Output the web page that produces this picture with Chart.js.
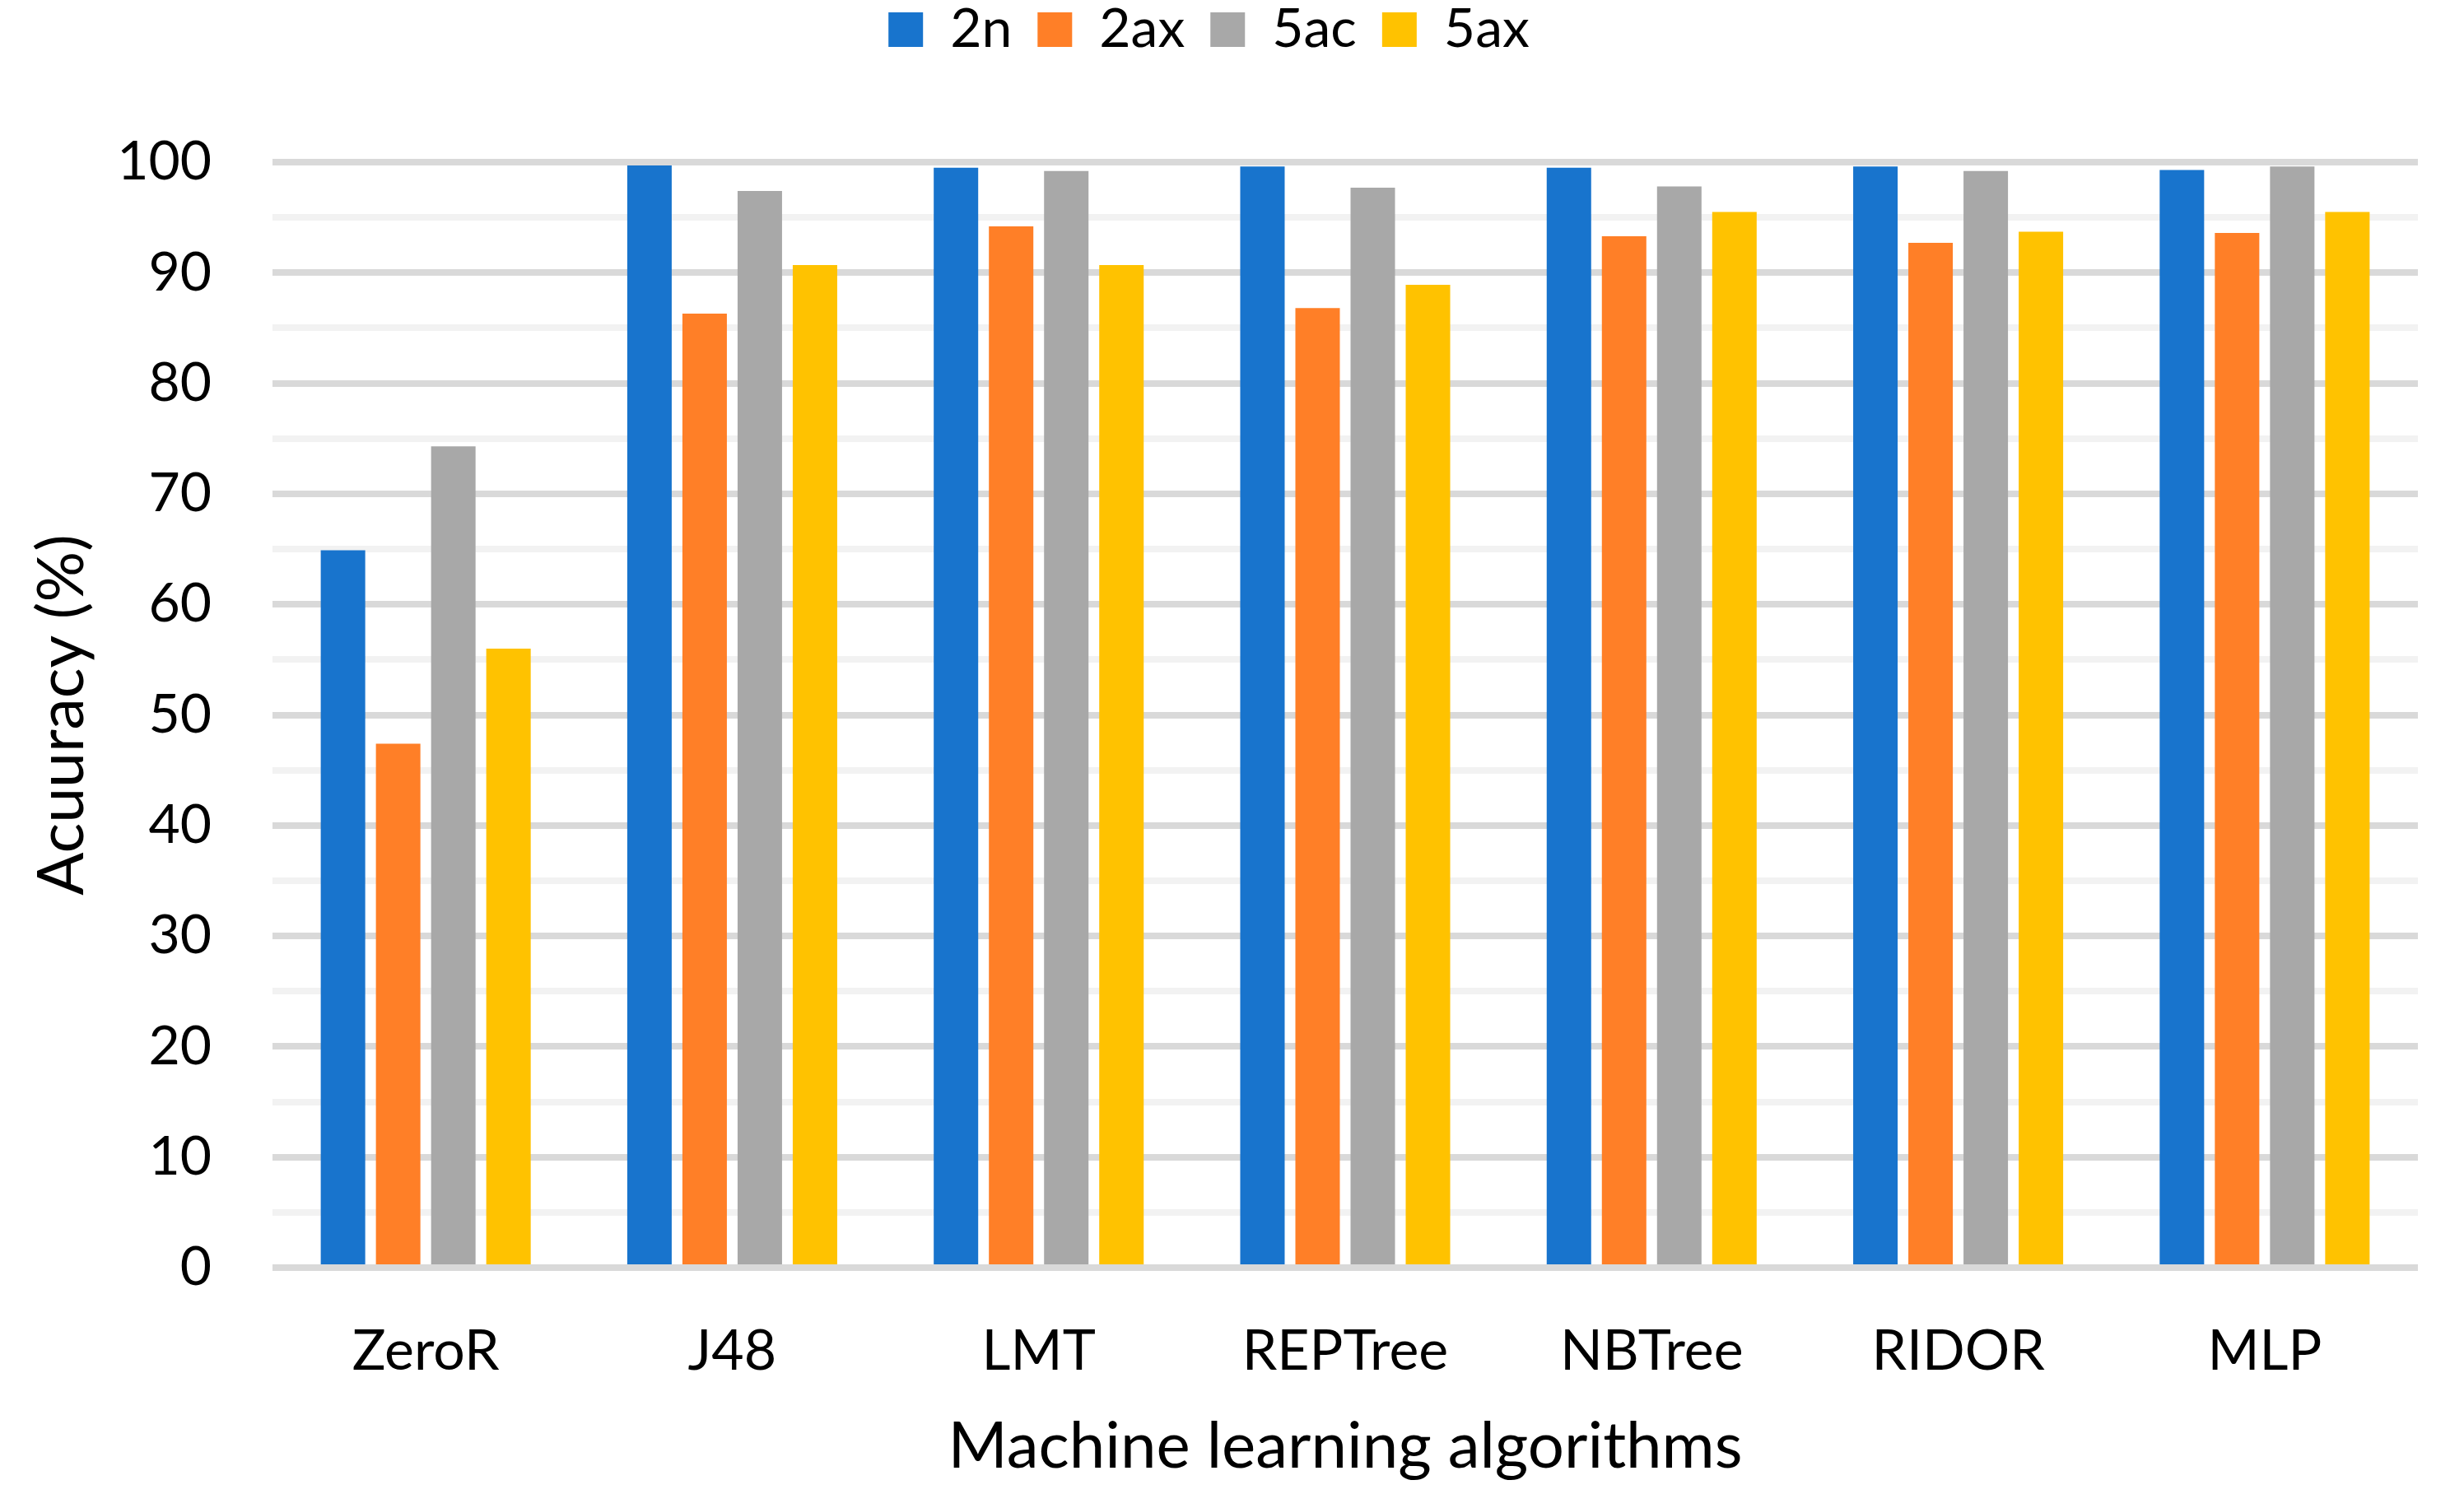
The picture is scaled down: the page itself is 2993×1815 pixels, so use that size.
<!DOCTYPE html>
<html>
<head>
<meta charset="utf-8">
<script src="https://cdn.jsdelivr.net/npm/chart.js@4/dist/chart.umd.min.js"></script>
<style>
  html, body { margin: 0; padding: 0; background: #ffffff; }
  #wrap { width: 2993px; height: 1815px; }
</style>
</head>
<body>
<div id="wrap"><canvas id="c" width="2993" height="1815"></canvas></div>
<script>
const categories = ["ZeroR", "J48", "LMT", "REPTree", "NBTree", "RIDOR", "MLP"];
const series2n  = [64.9, 99.7, 99.5, 99.6, 99.5, 99.6, 99.3];
const series2ax = [47.4, 86.3, 94.2, 86.8, 93.3, 92.7, 93.6];
const series5ac = [74.3, 97.4, 99.2, 97.7, 97.8, 99.2, 99.6];
const series5ax = [56.0, 90.7, 90.7, 88.9, 95.5, 93.7, 95.5];
const seriesNames = ["2n", "2ax", "5ac", "5ax"];
const yTickValues = [0, 10, 20, 30, 40, 50, 60, 70, 80, 90, 100];

const FONT = "Lato, 'Open Sans', sans-serif";

const legendHeightPlugin = {
  id: 'legendHeight',
  beforeLayout(chart) {
    const lg = chart.legend;
    if (lg && !lg._patchedFit) {
      const orig = lg.fit;
      lg.fit = function () { orig.call(this); this.height = 225; };
      lg._patchedFit = true;
    }
  }
};

new Chart(document.getElementById('c'), {
  type: 'bar',
  data: {
    labels: categories,
    datasets: [
      { label: seriesNames[0], data: series2n,  backgroundColor: '#1874CD' },
      { label: seriesNames[1], data: series2ax, backgroundColor: '#FF7F27' },
      { label: seriesNames[2], data: series5ac, backgroundColor: '#A8A8A8' },
      { label: seriesNames[3], data: series5ax, backgroundColor: '#FFC200' }
    ]
  },
  options: {
    responsive: false,
    devicePixelRatio: 1,
    animation: false,
    layout: { padding: { left: 0, right: 56, top: -28, bottom: 0 } },
    datasets: { bar: { categoryPercentage: 0.72, barPercentage: 0.806 } },
    plugins: {
      legend: {
        position: 'top',
        align: 'center',
        labels: {
          boxWidth: 42, boxHeight: 42, padding: 31,
          color: '#000', font: { family: FONT, size: 66 }
        }
      },
      tooltip: { enabled: false }
    },
    scales: {
      x: {
        grid: { display: false, drawTicks: false },
        border: { display: false },
        ticks: { color: '#000', font: { family: FONT, size: 68 }, padding: 61, maxRotation: 0 },
        title: { display: true, text: 'Machine learning algorithms', color: '#000',
                 font: { family: FONT, size: 78 }, padding: { top: 0, bottom: 10 } },
        afterFit(scale) { scale.height = 275; }
      },
      y: {
        min: 0, max: 100,
        ticks: {
          stepSize: 5, autoSkip: false, color: '#000', padding: 74,
          font: { family: FONT, size: 66 },
          callback: (v) => yTickValues.includes(v) ? String(v) : ''
        },
        grid: {
          drawTicks: false, lineWidth: 8,
          color: (ctx) => (ctx.tick && ctx.tick.value % 10 === 0) ? '#D9D9D9' : '#F2F2F2'
        },
        border: { display: false },
        title: { display: true, text: 'Acuuracy (%)', color: '#000',
                 font: { family: FONT, size: 77 }, padding: { top: 30, bottom: 0 } },
        afterFit(scale) { scale.width = 331; }
      }
    }
  },
  plugins: [legendHeightPlugin]
});
</script>
</body>
</html>
